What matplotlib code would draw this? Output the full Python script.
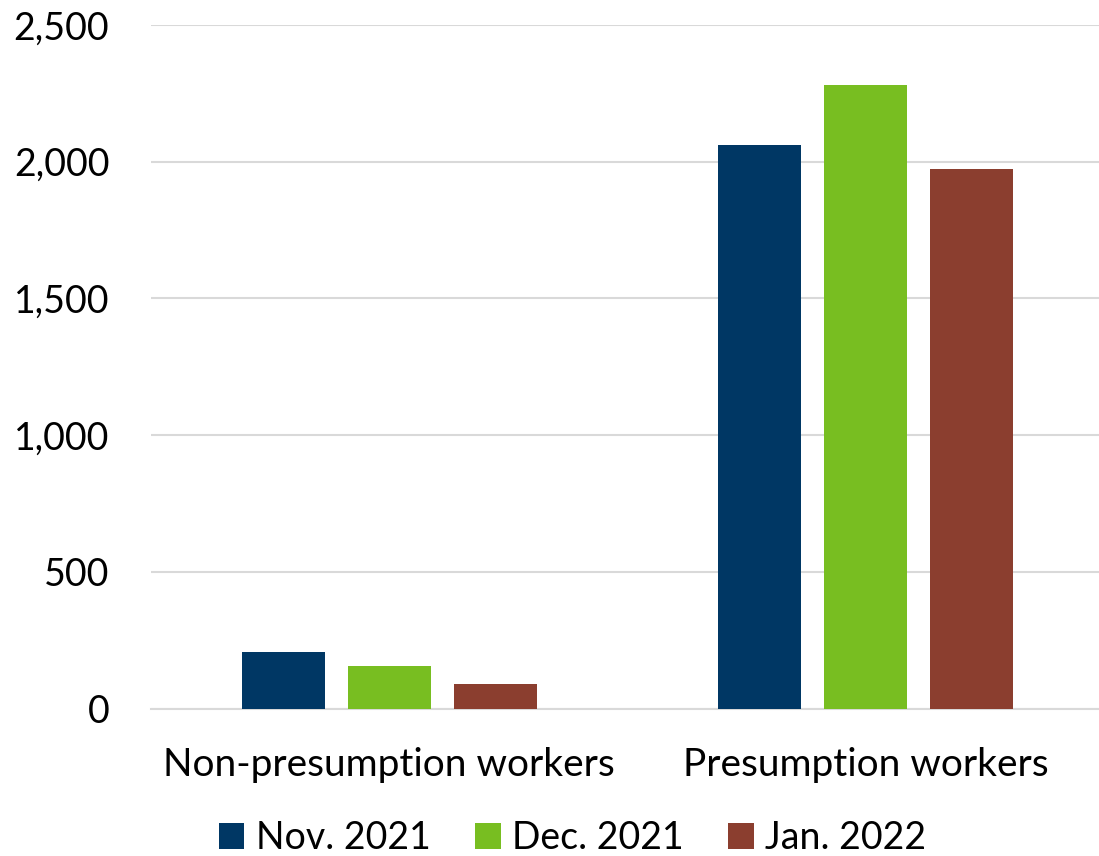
import matplotlib
matplotlib.use("Agg")
import matplotlib.pyplot as plt
import numpy as np
from matplotlib.ticker import FuncFormatter

categories = ["Non-presumption workers", "Presumption workers"]
series_names = ["Nov. 2021", "Dec. 2021", "Jan. 2022"]
nov_2021 = [206, 2061]
dec_2021 = [155, 2279]
jan_2022 = [91, 1973]
colors = ["#003764", "#78BE21", "#8B3E2F"]
y_ticks = [0, 500, 1000, 1500, 2000, 2500]

plt.rcParams["font.family"] = ["Lato", "DejaVu Sans"]

fig = plt.figure(figsize=(10.99, 8.56), dpi=100)
# plot area runs slightly past the right edge of the canvas
ax = fig.add_axes([0.1374, 0.1723, 0.867, 0.7987])

x = np.arange(len(categories))
bar_w = 0.174
step = 0.2225
for i, (vals, name, c) in enumerate(zip([nov_2021, dec_2021, jan_2022], series_names, colors)):
    ax.bar(x + (i - 1) * step, vals, width=bar_w, color=c, label=name, zorder=3)

ax.set_xlim(-0.5, 1.5)
ax.set_ylim(0, 2500)
ax.set_yticks(y_ticks)
ax.yaxis.set_major_formatter(FuncFormatter(lambda v, p: f"{int(v):,}"))
ax.set_xticks(x)
ax.set_xticklabels(categories)
ax.tick_params(axis="y", length=0, labelsize=27, colors="black", pad=30)
ax.tick_params(axis="x", length=0, labelsize=28, colors="black", pad=28)
ax.grid(axis="y", color="#d9d9d9", linewidth=1.5, zorder=0)
for s in ["top", "right", "left"]:
    ax.spines[s].set_visible(False)
ax.spines["bottom"].set_color("#d9d9d9")
ax.spines["bottom"].set_linewidth(1.5)

fig.legend(loc="center", bbox_to_anchor=(0.521, 0.021), ncol=3, frameon=False,
           fontsize=27, handlelength=0.67, handleheight=0.67, handletextpad=0.3,
           columnspacing=1.2, borderpad=0)

fig.savefig("out.png", dpi=100)
